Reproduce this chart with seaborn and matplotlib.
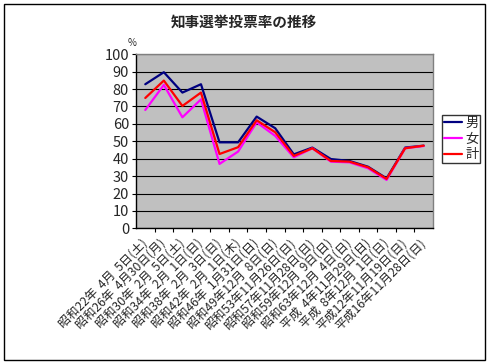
import numpy as np
import pandas as pd
import matplotlib
matplotlib.use("Agg")
import matplotlib.pyplot as plt
import seaborn as sns

sns.set_style("white")
plt.rcParams["font.family"] = ["Noto Sans CJK JP", "DejaVu Sans"]
plt.rcParams["axes.unicode_minus"] = False

# ── データ ────────────────────────────────────────────────────────────────
DATES = [
    "昭和22年  4月  5日(土)", "昭和26年  4月30日(月)", "昭和30年  2月  5日(土)",
    "昭和34年  2月  1日(日)", "昭和38年  2月  3日(日)", "昭和42年  2月  1日(木)",
    "昭和46年  1月31日(日)", "昭和49年12月  8日(日)", "昭和53年11月26日(日)",
    "昭和57年11月28日(日)", "昭和59年12月  9日(日)", "昭和63年12月  4日(日)",
    "平成  4年11月29日(日)", "平成  8年12月  1日(日)", "平成12年11月19日(日)",
    "平成16年11月28日(日)",
]
MALE = [82.8, 89.7, 78.0, 82.8, 49.4, 49.4, 64.2, 57.5, 42.5, 46.4, 39.8, 38.7, 35.4, 28.7, 46.4, 47.5]
FEMALE = [68.0, 82.4, 63.8, 74.1, 37.0, 44.1, 60.9, 53.1, 40.8, 46.0, 38.3, 37.9, 34.5, 27.8, 46.0, 47.3]
TOTAL = [74.9, 84.9, 70.3, 78.0, 42.7, 46.6, 62.1, 55.2, 41.6, 46.0, 38.7, 38.3, 35.1, 28.4, 46.0, 47.5]
SERIES = ["男", "女", "計"]
COLORS = {"男": "#000080", "女": "#FF00FF", "計": "#FF0000"}

df = pd.DataFrame({
    "idx": list(range(len(DATES))) * 3,
    "rate": MALE + FEMALE + TOTAL,
    "sex": [s for s in SERIES for _ in DATES],
})

W, H = 492, 364
fig = plt.figure(figsize=(W / 100, H / 100), dpi=100)
fig.patch.set_facecolor("white")
fig.add_artist(plt.Rectangle((4 / W, 1 - 360 / H), 481 / W, 356 / H,
                             transform=fig.transFigure, fill=False,
                             ec="black", lw=1.0))

ax = fig.add_axes([136 / W, 1 - 228.3 / H, 297 / W, 174 / H])
ax.set_facecolor("#C0C0C0")

sns.lineplot(data=df, x="idx", y="rate", hue="sex", hue_order=SERIES,
             palette=COLORS, linewidth=1.6, ax=ax, sort=False)

ax.set_xlim(-0.5, len(DATES) - 0.5)
ax.set_ylim(0, 100)
ax.set_yticks(range(0, 101, 10))
ax.yaxis.grid(True, color="black", linewidth=0.8)
ax.set_axisbelow(True)

ax.set_xticks(range(len(DATES)))
ax.set_xticklabels(DATES, rotation=45, ha="right", va="center",
                   rotation_mode="anchor", fontsize=8.8)
ax.set_xticks(np.arange(0.5, len(DATES) - 0.5, 1), minor=True)
ax.tick_params(axis="x", which="major", length=0, pad=9)
ax.tick_params(axis="x", which="minor", length=3, width=0.8,
               direction="out", color="black", bottom=True)
ax.tick_params(axis="y", length=3, width=0.8, direction="out",
               color="black", left=True, labelsize=10.5, pad=2)

for side in ["left", "bottom"]:
    ax.spines[side].set_color("black")
    ax.spines[side].set_linewidth(1.0)
for side in ["top", "right"]:
    ax.spines[side].set_color("#808080")
    ax.spines[side].set_linewidth(1.0)

ax.set_xlabel("")
ax.set_ylabel("")
fig.text(132 / W, 1 - 43 / H, "%", fontsize=7, ha="center", va="center")
fig.text(244 / W, 1 - 22 / H, "知事選挙投票率の推移", fontsize=10.5,
         fontweight="bold", ha="center", va="center")

leg = ax.legend(loc="upper left", bbox_to_anchor=(442 / W, 1 - 115 / H),
                bbox_transform=fig.transFigure, frameon=True, fancybox=False,
                fontsize=9.5, handlelength=1.4, handletextpad=0.2,
                borderpad=0.15, labelspacing=0.2, borderaxespad=0)
leg.get_frame().set_edgecolor("black")
leg.get_frame().set_linewidth(1.0)

fig.savefig("out.png", dpi=100)
